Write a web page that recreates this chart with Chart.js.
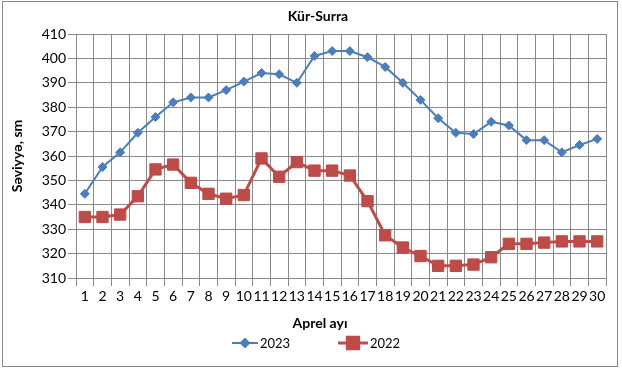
<!DOCTYPE html>
<html>
<head>
<meta charset="utf-8">
<script src="https://cdn.jsdelivr.net/npm/chart.js@4"></script>
<style>
  body { margin: 0; background: #fff; }
  #wrap { position: relative; width: 622px; height: 369px; }
  #frame { position: absolute; left: 2px; top: 1px; width: 614px; height: 364px; border: 1px solid #8a8a8a; }
  #c { position: absolute; left: 0; top: 0; }
</style>
</head>
<body>
<div id="wrap">
  <div id="frame"></div>
  <canvas id="c" width="622" height="369"></canvas>
</div>
<script>
const days = ["1","2","3","4","5","6","7","8","9","10","11","12","13","14","15",
              "16","17","18","19","20","21","22","23","24","25","26","27","28","29","30"];
const level2023 = [344.5, 355.5, 361.5, 369.5, 376, 382, 384, 384, 387, 390.5,
                   394, 393.5, 390, 401, 403, 403, 400.5, 396.5, 390, 383,
                   375.5, 369.5, 369, 374, 372.5, 366.5, 366.5, 361.5, 364.5, 367];
const level2022 = [335, 335, 336, 343.5, 354.5, 356.5, 349, 344.5, 342.5, 344,
                   359, 351.5, 357.5, 354, 354, 352, 341.5, 327.5, 322.5, 319,
                   315, 315, 315.5, 318.5, 324, 324, 324.5, 325, 325, 325];

const blue = '#4a7ebb';
const red = '#be4b48';
const fontName = 'Lato';

// title, x title and legend are painted by hand so they sit where the original has them
const extras = {
  id: 'extras',
  afterDraw(chart) {
    const ctx = chart.ctx;
    ctx.save();
    ctx.fillStyle = '#000';
    ctx.textAlign = 'center';
    ctx.textBaseline = 'middle';
    ctx.font = 'bold 14px ' + fontName;
    ctx.fillText('Kür-Surra', 318, 16);
    ctx.fillText('Aprel ayı', 320, 323);

    const y = 343;
    const items = [
      { x: 232, w: 26, label: '2023', color: blue, lw: 2, style: 'rectRot', r: 4 },
      { x: 338, w: 30, label: '2022', color: red, lw: 3, style: 'rect', r: 8 }
    ];
    ctx.font = '13px ' + fontName;
    ctx.textAlign = 'left';
    items.forEach(it => {
      ctx.strokeStyle = it.color;
      ctx.lineWidth = it.lw;
      ctx.beginPath();
      ctx.moveTo(it.x, y);
      ctx.lineTo(it.x + it.w, y);
      ctx.stroke();
      ctx.fillStyle = it.color;
      Chart.helpers.drawPoint(ctx, { pointStyle: it.style, radius: it.r, borderWidth: 1 }, it.x + it.w / 2, y);
      ctx.fillStyle = '#000';
      ctx.fillText(it.label, it.x + it.w + 2, y + 1);
    });
    ctx.restore();
  }
};

new Chart(document.getElementById('c'), {
  type: 'line',
  data: {
    labels: days,
    datasets: [
      {
        label: '2023',
        data: level2023,
        borderColor: blue,
        backgroundColor: blue,
        borderWidth: 2,
        pointStyle: 'rectRot',
        pointRadius: 4.5,
        pointBorderWidth: 1,
        lineTension: 0
      },
      {
        label: '2022',
        data: level2022,
        borderColor: red,
        backgroundColor: red,
        borderWidth: 3,
        pointStyle: 'rect',
        pointRadius: 8,
        pointBorderWidth: 1,
        lineTension: 0
      }
    ]
  },
  options: {
    responsive: false,
    animation: false,
    layout: { padding: { left: 5, top: 34, right: 16, bottom: 35 } },
    plugins: {
      legend: { display: false },
      title: { display: false },
      tooltip: { enabled: false }
    },
    scales: {
      x: {
        offset: true,
        grid: { color: '#898989', offset: true, tickLength: 8 },
        border: { color: '#898989' },
        ticks: {
          autoSkip: false, maxRotation: 0, minRotation: 0, padding: 2,
          color: '#000', font: { family: fontName, size: 14 }
        },
        afterFit(s) { s.height = 56; }
      },
      y: {
        min: 310,
        max: 410,
        grid: { color: '#898989', tickLength: 8 },
        border: { color: '#898989' },
        ticks: { stepSize: 10, padding: 2, color: '#000', font: { family: fontName, size: 14 } },
        title: { display: true, text: 'Səviyyə, sm', color: '#000', font: { family: fontName, size: 14, weight: 'bold' } },
        afterFit(s) { s.width = 71; }
      }
    }
  },
  plugins: [extras]
});
</script>
</body>
</html>
